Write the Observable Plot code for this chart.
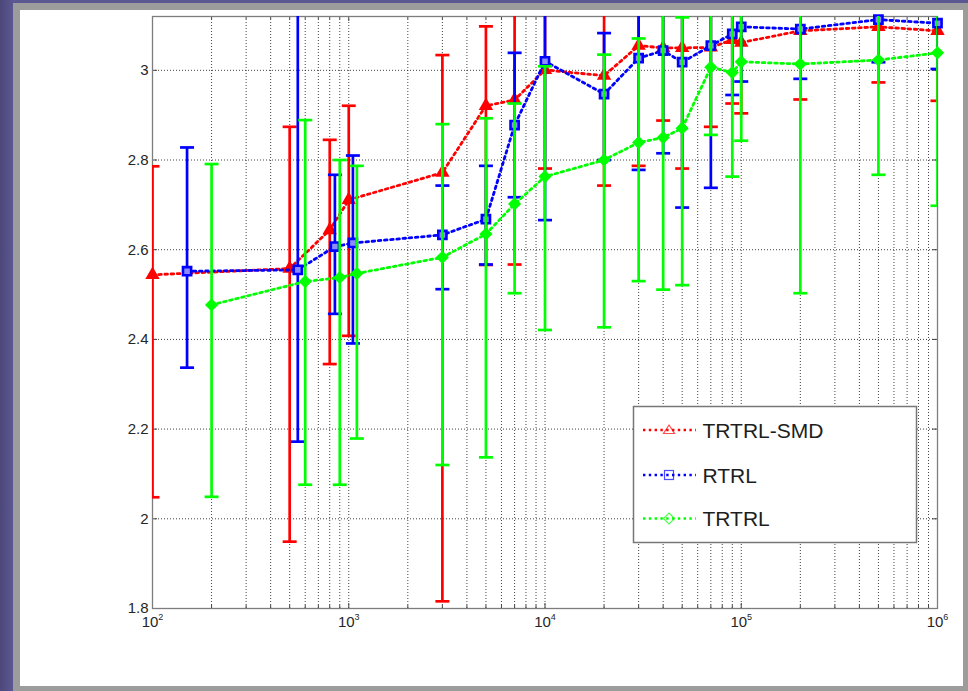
<!DOCTYPE html>
<html>
<head>
<meta charset="utf-8">
<script src="https://cdn.jsdelivr.net/npm/d3@7"></script>
<script src="https://cdn.jsdelivr.net/npm/@observablehq/plot@0.6"></script>
<style>
  html, body { margin: 0; padding: 0; }
  body { width: 968px; height: 691px; position: relative; overflow: hidden;
         background: linear-gradient(90deg, #4d4879 0px, #5b5792 13px); font-family: "Liberation Sans", Arial, sans-serif; }
  #frame { position: absolute; left: 13px; top: 3px; width: 955px; height: 688px; background: #9c9c9c; }
  #paper { position: absolute; left: 20px; top: 10px; width: 943px; height: 676px; background: #ffffff; }
  #chart { position: absolute; left: 0; top: 0; }
  #legend { position: absolute; left: 0; top: 0; }
</style>
</head>
<body>
<div id="frame"></div>
<div id="paper"></div>
<div id="chart"></div>
<svg id="legend" width="968" height="691"></svg>
<script>
// ---------------- data ----------------
const seriesNames = ["TRTRL-SMD", "RTRL", "TRTRL"];
const seriesColors = ["#ff0000", "#0000ff", "#00ff00"];

const smdX    = [100, 500, 800, 1000, 3000, 5000, 7000, 10000, 20000, 30000, 40000, 50000, 70000, 90000, 100000, 200000, 500000, 1000000];
const smdMean = [2.544, 2.558, 2.644, 2.711, 2.772, 2.921, 2.934, 3.001, 2.988, 3.055, 3.050, 3.050, 3.051, 3.068, 3.062, 3.088, 3.097, 3.088];
const smdLow  = [2.048, 1.949, 2.345, 2.408, 1.816, 2.566, 2.567, 2.781, 2.743, 2.787, 2.888, 2.781, 2.874, 2.926, 2.904, 2.935, 2.973, 2.932];
const smdHigh = [2.786, 2.874, 2.845, 2.921, 3.034, 3.098, 3.200, 3.200, 3.200, 3.200, 3.200, 3.200, 3.200, 3.200, 3.200, 3.200, 3.200, 3.200];

const rtrlX    = [150, 550, 850, 1050, 3000, 5000, 7000, 10000, 20000, 30000, 40000, 50000, 70000, 90000, 100000, 200000, 500000, 1000000];
const rtrlMean = [2.552, 2.555, 2.607, 2.615, 2.633, 2.668, 2.878, 3.020, 2.947, 3.027, 3.044, 3.018, 3.055, 3.081, 3.097, 3.092, 3.113, 3.105];
const rtrlLow  = [2.337, 2.172, 2.457, 2.391, 2.512, 2.567, 2.717, 2.666, 2.800, 2.778, 2.815, 2.694, 2.738, 2.945, 2.975, 2.981, 3.018, 3.003];
const rtrlHigh = [2.828, 3.200, 2.767, 2.810, 2.743, 2.787, 3.039, 3.200, 3.083, 3.200, 3.200, 3.200, 3.200, 3.200, 3.200, 3.200, 3.200, 3.200];

const trtrlX    = [200, 600, 900, 1100, 3000, 5000, 7000, 10000, 20000, 30000, 40000, 50000, 70000, 90000, 100000, 200000, 500000, 1000000];
const trtrlMean = [2.477, 2.529, 2.538, 2.547, 2.583, 2.635, 2.702, 2.763, 2.800, 2.839, 2.850, 2.871, 3.007, 2.995, 3.019, 3.014, 3.023, 3.039];
const trtrlLow  = [2.049, 2.076, 2.076, 2.179, 2.120, 2.137, 2.503, 2.421, 2.427, 2.530, 2.511, 2.521, 2.856, 2.763, 2.843, 2.503, 2.767, 2.698];
const trtrlHigh = [2.791, 2.889, 2.800, 2.787, 2.880, 2.893, 2.926, 3.009, 3.035, 3.071, 3.200, 3.118, 3.200, 3.200, 3.200, 3.200, 3.200, 3.200];

const xMajorTicks = [1e2, 1e3, 1e4, 1e5, 1e6];
const xMinorMultipliers = [2, 3, 4, 5, 6, 7, 8, 9];
const yTicks = [1.8, 2, 2.2, 2.4, 2.6, 2.8, 3];
const yTickLabels = ["1.8", "2", "2.2", "2.4", "2.6", "2.8", "3"];

// ---------------- build ----------------
const rows = (xs, m, lo, hi) => xs.map((x, i) => ({x, y: m[i], lo: lo[i], hi: hi[i]}));
const series = [
  rows(smdX, smdMean, smdLow, smdHigh),
  rows(rtrlX, rtrlMean, rtrlLow, rtrlHigh),
  rows(trtrlX, trtrlMean, trtrlLow, trtrlHigh)
];
const xMinorTicks = xMajorTicks.slice(0, -1).flatMap(d => xMinorMultipliers.map(k => d * k));
const xAllTicks = [...xMajorTicks, ...xMinorTicks];

const W = 968, H = 650, mL = 152, mR = 31, mT = 16, mB = 42;
const plotW = W - mL - mR, plotH = H - mT - mB;

const capSymbol = { draw(ctx, size) { const r = Math.sqrt(size / Math.PI); ctx.moveTo(-r, 0); ctx.lineTo(r, 0); } };
const markerSpecs = [
  {symbol: "triangle", r: 4.2, fill: "#ff0000", stroke: "#ff0000", strokeWidth: 1.8},
  {symbol: "square",   r: 4.6, fill: "#8c8cff", stroke: "#0000ff", strokeWidth: 2.6},
  {symbol: "diamond2", r: 4.8, fill: "#00ff00", stroke: "#00ff00", strokeWidth: 1.8}
];

const seriesMarks = series.flatMap((data, i) => {
  const c = seriesColors[i];
  return [
    Plot.ruleX(data, {x: "x", y1: "lo", y2: "hi", stroke: c, strokeWidth: 2.7, clip: true}),
    Plot.dot(data, {x: "x", y: "lo", symbol: capSymbol, r: 7, fill: "none", stroke: c, strokeWidth: 2.7, clip: true}),
    Plot.dot(data, {x: "x", y: "hi", symbol: capSymbol, r: 7, fill: "none", stroke: c, strokeWidth: 2.7, clip: true}),
    Plot.line(data, {x: "x", y: "y", stroke: c, strokeWidth: 2.8, strokeDasharray: "2.6,3.6"}),
    Plot.dot(data, {x: "x", y: "y", ...markerSpecs[i]})
  ];
});

const gridStyle = {stroke: "#222", strokeOpacity: 0.85, strokeWidth: 1, strokeDasharray: "1,2"};

const chart = Plot.plot({
  width: W, height: H,
  marginLeft: mL, marginRight: mR, marginTop: mT, marginBottom: mB,
  x: {type: "log", domain: [1e2, 1e6]},
  y: {domain: [1.8, 3.12]},
  style: {background: "transparent", fontFamily: "'Liberation Sans', Arial, sans-serif", fontSize: "15px", color: "#262626", overflow: "visible"},
  marks: [
    Plot.ruleX(xAllTicks, gridStyle),
    Plot.ruleY(yTicks, gridStyle),
    Plot.tickX(xMajorTicks, {insetTop: plotH - 5, stroke: "#444"}),
    Plot.tickX(xMinorTicks, {insetTop: plotH - 3, stroke: "#444"}),
    Plot.tickX(xMajorTicks, {insetBottom: plotH - 5, stroke: "#444"}),
    Plot.tickX(xMinorTicks, {insetBottom: plotH - 3, stroke: "#444"}),
    Plot.tickY(yTicks, {insetRight: plotW - 5, stroke: "#444"}),
    Plot.tickY(yTicks, {insetLeft: plotW - 5, stroke: "#444"}),
    Plot.frame({stroke: "#7d7d7d", strokeWidth: 1.3}),
    Plot.axisY(yTicks, {tickSize: 0, tickPadding: 4, fontSize: 15, label: null,
      tickFormat: d => yTickLabels[yTicks.indexOf(d)]}),
    Plot.axisX(xMajorTicks, {tickSize: 0, tickPadding: 8, fontSize: 15, label: null,
      tickFormat: d => "10^" + Math.round(Math.log10(d))}),
    ...seriesMarks
  ]
});
document.getElementById("chart").appendChild(chart);

// tick label font size and superscript exponents
chart.querySelectorAll('g[aria-label="y-axis tick label"], g[aria-label="x-axis tick label"]').forEach(g => g.setAttribute("font-size", "15"));
chart.querySelectorAll('g[aria-label="x-axis tick label"] text').forEach(t => {
  const s = t.textContent;
  if (!s.includes("^")) return;
  const [base, exp] = s.split("^");
  t.textContent = "";
  const ns = "http://www.w3.org/2000/svg";
  const b = document.createElementNS(ns, "tspan"); b.textContent = base; t.appendChild(b);
  const e = document.createElementNS(ns, "tspan"); e.textContent = exp;
  e.setAttribute("dy", "-7"); e.setAttribute("font-size", "9"); t.appendChild(e);
});

// ---------------- legend ----------------
const ns = "http://www.w3.org/2000/svg";
const lg = document.getElementById("legend");
const el = (tag, attrs, parent) => { const n = document.createElementNS(ns, tag); for (const k in attrs) n.setAttribute(k, attrs[k]); (parent || lg).appendChild(n); return n; };
el("rect", {x: 633.5, y: 406.5, width: 283, height: 136, fill: "#fff", stroke: "#777", "stroke-width": 1.5});
const legendY = [430, 475, 518.5];
const legendShapes = ["triangle", "square", "diamond"];
seriesNames.forEach((name, i) => {
  const y = legendY[i], c = seriesColors[i];
  el("line", {x1: 643, x2: 696, y1: y, y2: y, stroke: c, "stroke-width": 2.4, "stroke-dasharray": "2.4,3.4"});
  const cx = 669;
  if (legendShapes[i] === "triangle") el("path", {d: `M${cx},${y - 5} L${cx + 5.5},${y + 3.5} L${cx - 5.5},${y + 3.5} Z`, fill: "none", stroke: c, "stroke-width": 1.2, opacity: 0.7});
  if (legendShapes[i] === "square") el("rect", {x: cx - 4.5, y: y - 4.5, width: 9, height: 9, fill: "none", stroke: c, "stroke-width": 1.2, opacity: 0.7});
  if (legendShapes[i] === "diamond") el("path", {d: `M${cx},${y - 5.5} L${cx + 5.5},${y} L${cx},${y + 5.5} L${cx - 5.5},${y} Z`, fill: "none", stroke: c, "stroke-width": 1.2, opacity: 0.7});
  const t = el("text", {x: 702.5, y: y, "dominant-baseline": "central", "font-size": 21, fill: "#1e1e1e", "font-family": "'Liberation Sans', Arial, sans-serif"});
  t.textContent = name;
});
</script>
</body>
</html>
